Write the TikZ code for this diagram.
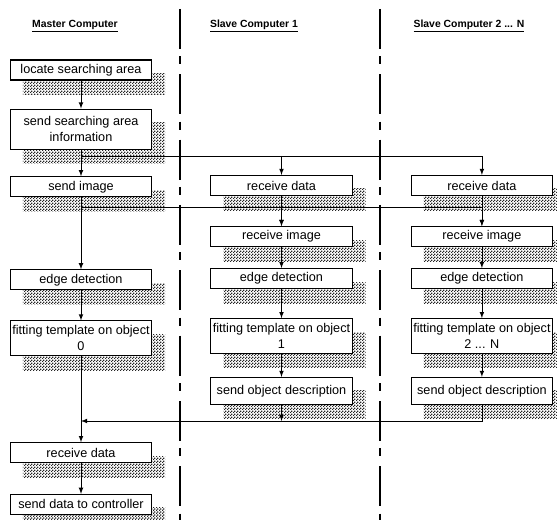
\documentclass[tikz,border=0pt]{standalone}
\usepackage{fontspec}
\setmainfont{Liberation Sans}
\usetikzlibrary{arrows,patterns,backgrounds,positioning}

\pgfdeclarepatternformonly{finechecker}{\pgfpointorigin}{\pgfqpoint{2pt}{2pt}}{\pgfqpoint{2pt}{2pt}}{
  \pgfpathrectangle{\pgfpointorigin}{\pgfqpoint{1pt}{1pt}}
  \pgfpathrectangle{\pgfqpoint{1pt}{1pt}}{\pgfqpoint{1pt}{1pt}}
  \pgfusepath{fill}}

\begin{document}
\begin{tikzpicture} [x=0.75pt, y=-0.75pt,
    every node/.style={draw, rectangle, fill=white, line width=0.8pt,
      minimum width=106pt, minimum height=15pt, inner sep=1pt, align=center,
      font=\fontsize{9.5}{12}\selectfont},
    head/.style={draw=none, fill=none, minimum width=0pt, minimum height=0pt,
      font=\bfseries\fontsize{7.8}{9}\selectfont},
    flow/.style={line width=0.6pt, -latex},
    lane/.style={line width=1.3pt, dash pattern=on 30pt off 5.5pt on 6pt off 7.5pt},
    shade/.style={pattern=finechecker, pattern color=black!85}]

    \useasboundingbox (0,0) rectangle (557,520);

    % lanes
    \draw [lane] (180,9) -- (180,525);
    \draw [lane] (380,9) -- (380,525);

    \node (hmaster) [head] at (75,26) {\underline{Master Computer}};
    \node (hslave1) [head] at (254,26) {\underline{Slave Computer 1}};
    \node (hslave2) [head] at (469,26) {\underline{Slave Computer 2 ... N}};

    % master
    \node (loc) [] at (81,70) {locate searching area};
    \node (area) [below = 21pt of loc, minimum height=30pt] {send searching area\\information};
    \node (simg) [below = 20pt of area] {send image};
    \node (edge0) [below = 54pt of simg] {edge detection};
    \node (fit0) [below = 22.5pt of edge0, minimum height=26pt] {fitting template on object\\0};
    \node (recv0) [below = 64.5pt of fit0] {receive data};
    \node (ctrl) [below = 23pt of recv0] {send data to controller};

    % slave 1
    \node (rdata1) [] at (281.5,185.5) {receive data};
    \node (rimg1) [below = 22.5pt of rdata1] {receive image};
    \node (edge1) [below = 15.75pt of rimg1] {edge detection};
    \node (fit1) [below = 21.75pt of edge1, minimum height=26pt] {fitting template on object\\1};
    \node (desc1) [below = 17.25pt of fit1, minimum height=20pt] {send object description};

    % slave 2 ... N
    \node (rdata2) [right = 43.5pt of rdata1] {receive data};
    \node (rimg2) [right = 43.5pt of rimg1] {receive image};
    \node (edge2) [right = 43.5pt of edge1] {edge detection};
    \node (fit2) [right = 43.5pt of fit1, minimum height=26pt] {fitting template on object\\2 ... N};
    \node (desc2) [right = 43.5pt of desc1, minimum height=20pt] {send object description};

    \begin{scope}[on background layer]
      \foreach \n in {loc,area,simg,edge0,fit0,recv0,ctrl,rdata1,rimg1,edge1,fit1,desc1,rdata2,rimg2,edge2,fit2,desc2}
        \fill [shade] ([shift={(13,14)}]\n.north west) rectangle ([shift={(13,14)}]\n.south east);
    \end{scope}

    \coordinate (tap1) at (81,156);
    \coordinate (tap2) at (81,207);
    \coordinate (join) at (81,421);

    \draw [flow] (loc) -- (area);
    \draw [flow] (area) -- (simg);
    \draw [flow] (simg) -- (edge0);
    \draw [flow] (edge0) -- (fit0);
    \draw [flow] (fit0) -- (recv0);
    \draw [flow] (recv0) -- (ctrl);

    \draw [flow] (tap1) -| (rdata2);
    \draw [flow] (tap1 -| rdata1) -- (rdata1);
    \draw [flow] (tap2) -| (rimg2);
    \draw [flow] (tap2 -| rimg1) -- (rimg1);

    \draw [flow] (rdata1) -- (rimg1);
    \draw [flow] (rimg1) -- (edge1);
    \draw [flow] (edge1) -- (fit1);
    \draw [flow] (fit1) -- (desc1);
    \draw [flow] (desc1) -- (desc1 |- join);

    \draw [flow] (rdata2) -- (rimg2);
    \draw [flow] (rimg2) -- (edge2);
    \draw [flow] (edge2) -- (fit2);
    \draw [flow] (fit2) -- (desc2);
    \draw [flow] (desc2) |- (join);
  \end{tikzpicture}
\end{document}
